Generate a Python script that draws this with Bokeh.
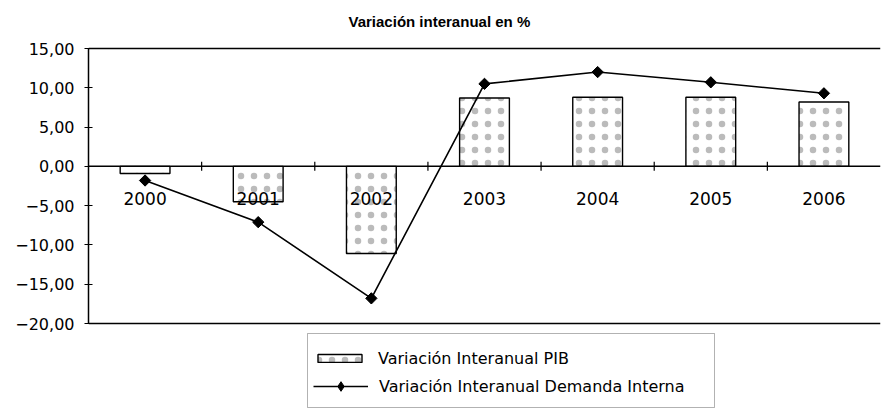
from bokeh.plotting import figure
from bokeh.models import (Range1d, FixedTicker, Span, Legend, LegendItem, ColumnDataSource,
                          Label, BoxAnnotation)
from bokeh.core.properties import value
from bokeh.embed import file_html
from bokeh.resources import INLINE
import math

years = ["2000", "2001", "2002", "2003", "2004", "2005", "2006"]
pib = [-0.9, -4.5, -11.1, 8.7, 8.8, 8.8, 8.2]
demanda = [-1.8, -7.1, -16.8, 10.5, 12.0, 10.7, 9.3]
y_ticks = [-20, -15, -10, -5, 0, 5, 10, 15]
y_tick_labels = {t: (f"{t:.2f}".replace(".", ",").replace("-", "\u2212")) for t in y_ticks}
title_text = "Variación interanual en %"
legend_pib = "Variación Interanual PIB"
legend_dem = "Variación Interanual Demanda Interna"

FONT = "DejaVu Sans"

# layout (pixels)
W, H = 882, 409
TOP, LEFT, RIGHT = 48, 88, 2
PLOT_H = 275          # pixels between y=15 and y=-20
EXTRA = H - TOP - PLOT_H   # legend area under the chart, kept inside the frame
y_lo, y_hi = min(y_ticks), max(y_ticks)
px_per_unit = PLOT_H / (y_hi - y_lo)

xs = list(range(len(years)))
src = ColumnDataSource(dict(x=xs, pib=pib, dem=demanda, year=years, zero=[0] * len(years)))
bounds = ColumnDataSource(dict(x=[i + 0.5 for i in range(len(years) - 1)], y=[0] * (len(years) - 1)))

p = figure(width=W, height=H, output_backend="svg", toolbar_location=None,
           x_range=Range1d(-0.5, len(years) - 0.5),
           y_range=Range1d(y_lo - EXTRA / px_per_unit, y_hi + TOP / px_per_unit),
           x_axis_location=None, min_border_left=LEFT, min_border_right=RIGHT,
           min_border_top=0, min_border_bottom=0)
p.grid.visible = False
p.outline_line_color = None
p.background_fill_color = "white"
p.border_fill_color = "white"

p.add_layout(Label(x=348, y=21, x_units="canvas", y_units="canvas", text=title_text,
                   text_font="Liberation Sans", text_font_size="15px", text_font_style="bold",
                   text_color="black", text_align="left", text_baseline="alphabetic"))

ax = p.yaxis[0]
ax.ticker = FixedTicker(ticks=y_ticks)
ax.bounds = (y_lo, y_hi)
ax.major_label_overrides = y_tick_labels
ax.major_label_text_font = FONT
ax.major_label_text_font_size = "16px"
ax.major_label_text_color = "black"
ax.major_tick_in = 4
ax.major_tick_out = 4
ax.minor_tick_line_color = None
ax.axis_line_width = 1.5
ax.major_tick_line_width = 1.2
ax.major_label_standoff = 10

# frame top / bottom borders and zero line
p.add_layout(Span(location=y_hi, dimension="width", line_color="black", line_width=1.3))
p.add_layout(Span(location=y_lo, dimension="width", line_color="black", line_width=1.3))

bars = p.vbar(x="x", top="pib", width=0.44, source=src, fill_color="white",
              line_color="black", line_width=1.4, hatch_pattern="dot", hatch_color="#b4b4b4",
              hatch_scale=13, hatch_weight=0.4, hatch_alpha=0.9)

p.add_layout(Span(location=0, dimension="width", line_color="black", line_width=1.5))
p.scatter(x="x", y="y", source=bounds, marker="dash", angle=math.pi / 2, size=9,
          line_color="black", line_width=1.2)

p.text(x="x", y="zero", text="year", source=src, text_font=value(FONT), text_font_size="17px",
       text_align="center", text_baseline="alphabetic", y_offset=32, text_color="black")

ln = p.line(x="x", y="dem", source=src, line_color="black", line_width=1.6)
# diamond marker used for the legend glyph; the rotated square drawn on top gives the plot marker
dia = p.scatter(x="x", y="dem", source=src, marker="diamond", size=10,
                fill_color="black", line_color="black")
pts = p.scatter(x="x", y="dem", source=src, marker="square", angle=math.pi / 4, size=8,
                fill_color="black", line_color="black")

# legend frame (canvas pixels) and two legend rows
p.add_layout(BoxAnnotation(left=307, right=714, top=333, bottom=407,
                           left_units="canvas", right_units="canvas",
                           top_units="canvas", bottom_units="canvas",
                           fill_color="white", fill_alpha=1.0,
                           line_color="black", line_width=1, level="annotation"))

common = dict(orientation="vertical", label_text_font=FONT, label_text_font_size="16px",
              label_text_color="black", glyph_width=55, label_height=20, label_standoff=11,
              padding=2, border_line_color=None, background_fill_color=None,
              background_fill_alpha=0)
leg_a = Legend(items=[LegendItem(label=legend_pib, renderers=[bars])],
               location=(224, 41), glyph_height=10, **common)
leg_b = Legend(items=[LegendItem(label=legend_dem, renderers=[ln, dia])],
               location=(225, 11), glyph_height=24, **common)
p.add_layout(leg_a, "center")
p.add_layout(leg_b, "center")

open("out.html", "w").write(file_html(p, INLINE))
